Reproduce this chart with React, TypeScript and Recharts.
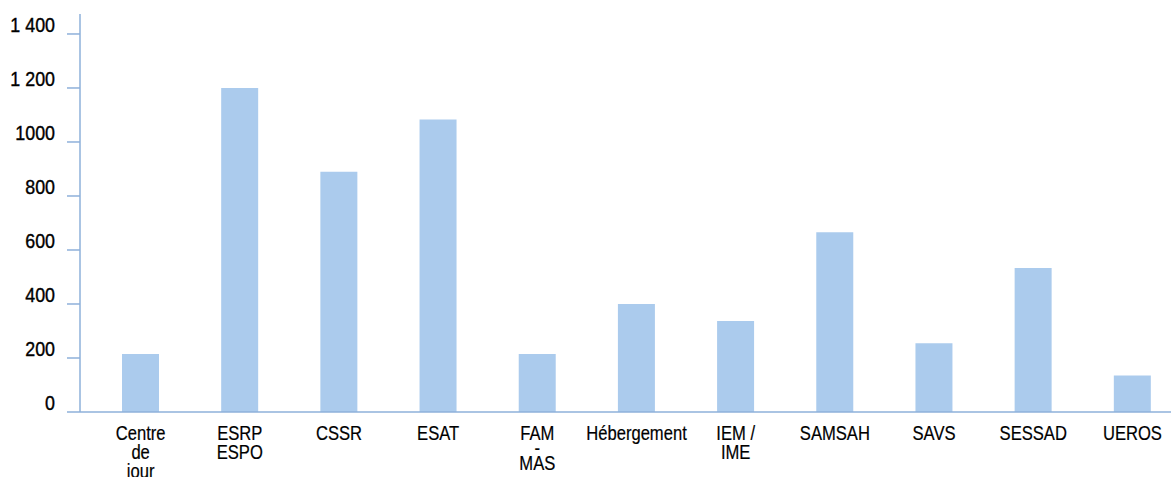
import React from 'react';
import { BarChart, Bar, XAxis, YAxis } from 'recharts';

const categories = [
  'Centre de jour',
  'ESRP ESPO',
  'CSSR',
  'ESAT',
  'FAM - MAS',
  'Hébergement',
  'IEM / IME',
  'SAMSAH',
  'SAVS',
  'SESSAD',
  'UEROS',
];

// how each category label wraps under the axis
const labelLines = [
  ['Centre', 'de', 'jour'],
  ['ESRP', 'ESPO'],
  ['CSSR'],
  ['ESAT'],
  ['FAM', '-', 'MAS'],
  ['Hébergement'],
  ['IEM /', 'IME'],
  ['SAMSAH'],
  ['SAVS'],
  ['SESSAD'],
  ['UEROS'],
];

const values = [215, 1200, 890, 1083, 215, 400, 337, 666, 255, 533, 135];

const yTicks = [0, 200, 400, 600, 800, 1000, 1200, 1400];
const yTickLabels = ['0', '200', '400', '600', '800', '1000', '1 200', '1 400'];

const data = categories.map((name, i) => ({ name, value: values[i] }));

// no condensed Helvetica here, so squeeze Liberation Sans horizontally
const FONT = "'Liberation Sans', Arial, sans-serif";
const SQUEEZE = 0.83;
const AXIS_BLUE = '#8eb0da';
const BAR_BLUE = '#abcbed';

const YTick = (props: any) => {
  const { x, y, payload } = props;
  const idx = yTicks.indexOf(payload.value);
  return (
    <g transform={`translate(${x},${y - 2}) scale(0.85,1)`}>
      <text x={0} y={0} textAnchor="end" fontFamily={FONT} fontSize={21} fill="#000" stroke="#000" strokeWidth={0.4}>
        {yTickLabels[idx]}
      </text>
    </g>
  );
};

const XTick = (props: any) => {
  const { x, y, index } = props;
  const lines = labelLines[index] || [];
  let offset = 28;
  return (
    <g transform={`translate(${x},${y}) scale(${SQUEEZE},1)`}>
      <text x={0} y={0} textAnchor="middle" fontFamily={FONT} fontSize={20} fill="#000" stroke="#000" strokeWidth={0.2}>
        {lines.map((line, i) => {
          if (i > 0) offset += line === '-' || lines[i - 1] === '-' ? 15 : 19;
          return (
            <tspan key={i} x={0} y={offset}>
              {line}
            </tspan>
          );
        })}
      </text>
    </g>
  );
};

export default function App() {
  return (
    <div style={{ position: 'absolute', left: 0, top: 0, width: 1171, height: 477, overflow: 'hidden', background: '#fff' }}>
      <BarChart width={1190} height={477} data={data} margin={{ top: 14, right: 8, left: 0, bottom: 0 }}>
        <XAxis
          dataKey="name"
          interval={0}
          height={65}
          tickLine={false}
          tickSize={0}
          tickMargin={0}
          padding={{ left: 11, right: 0 }}
          axisLine={{ stroke: AXIS_BLUE, strokeWidth: 1.5 }}
          tick={<XTick />}
        />
        <YAxis
          width={80}
          domain={[0, 1474]}
          ticks={yTicks}
          interval={0}
          tickSize={13}
          tickMargin={12}
          axisLine={{ stroke: AXIS_BLUE, strokeWidth: 1.5 }}
          tickLine={{ stroke: AXIS_BLUE, strokeWidth: 1.5 }}
          tick={<YTick />}
        />
        <Bar dataKey="value" fill={BAR_BLUE} barSize={37} isAnimationActive={false} />
      </BarChart>
    </div>
  );
}
